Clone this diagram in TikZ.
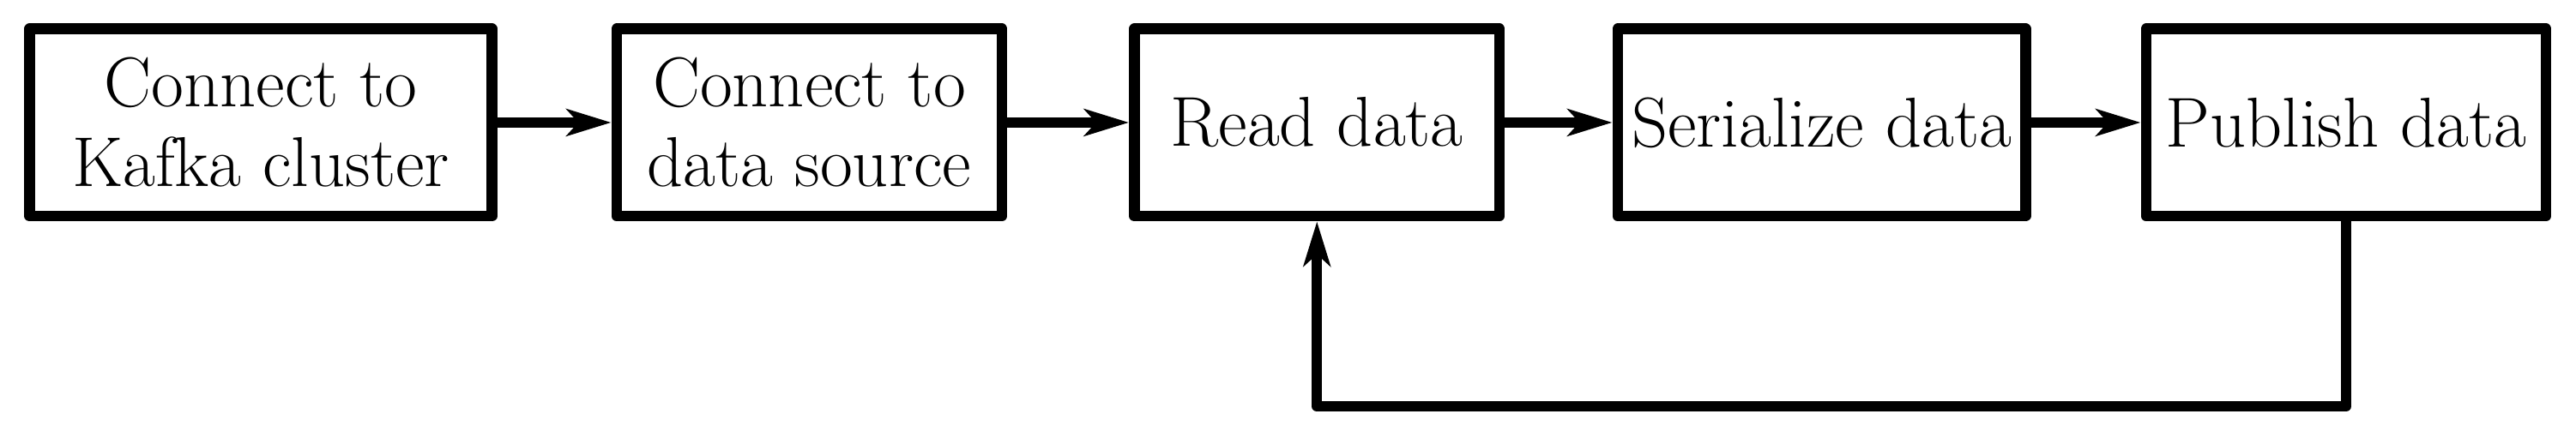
\documentclass[tikz,border=0pt]{standalone}
\usepackage{amsfonts,amssymb,amsmath}
\usetikzlibrary{arrows.meta}

\begin{document}
\begin{tikzpicture}[x=1pt,y=1pt,
  stagebox/.style={draw=drawColor,line width=2.8pt,line join=round,align=center,
    inner sep=1pt,minimum height=47.4pt,font=\fontsize{17.9}{20.2}\selectfont},
  flowline/.style={draw=drawColor,line width=2.6pt,line join=round,
    -{Stealth[length=11.3pt,width=6.8pt,inset=3pt]}}]
\definecolor{fillColor}{RGB}{255,255,255}
\definecolor{drawColor}{RGB}{0,0,0}
\path[use as bounding box,fill=fillColor] (0,0) rectangle (652.83,110.87);

% stages
\node[stagebox,minimum width=117.2pt] (kafka) at ( 66.10,79.80) {Connect to\\Kafka cluster};
\node[stagebox,minimum width= 97.6pt] (source) at (205.10,79.80) {Connect to\\data source};
\node[stagebox,minimum width= 92.5pt] (read) at (333.75,79.80) {Read data};
\node[stagebox,minimum width=103.3pt] (serial) at (461.65,79.80) {Serialize data};
\node[stagebox,minimum width=101.3pt] (publish) at (594.55,79.80) {Publish data};

\draw[flowline] (kafka) -- (source);
\draw[flowline] (source) -- (read);
\draw[flowline] (read) -- (serial);
\draw[flowline] (serial) -- (publish);

% back to reading
\coordinate (loopbase) at (0,7.80);
\draw[flowline] (publish.south) -- (publish.south |- loopbase) -| (read.south);
\end{tikzpicture}
\end{document}
